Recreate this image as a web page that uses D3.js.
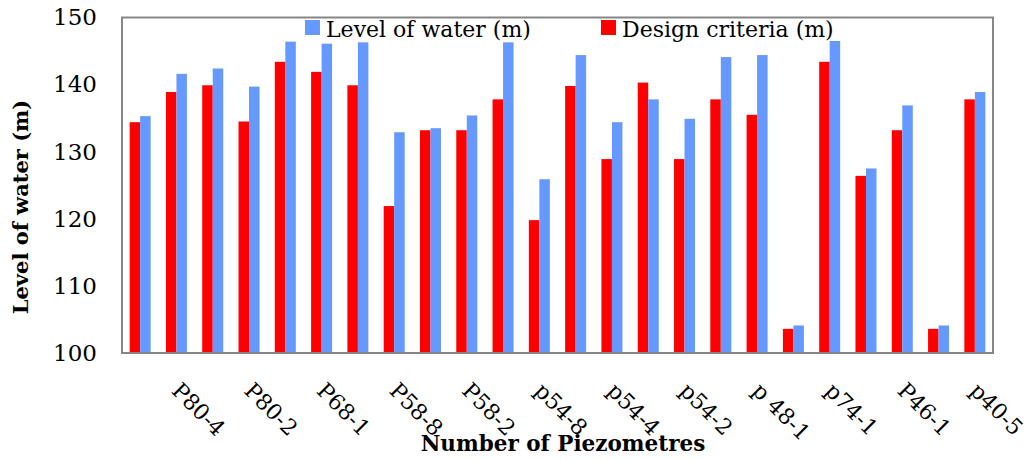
<!DOCTYPE html>
<html>
<head>
<meta charset="utf-8">
<script src="https://cdn.jsdelivr.net/npm/d3@7"></script>
<style>
  html, body { margin: 0; padding: 0; background: #fff; }
  svg { display: block; }
</style>
</head>
<body>
<svg id="chart" width="1030" height="460"></svg>
<script>
// ---- data ----
const tickLabels = ["P80-4", "P80-2", "P68-1", "P58-8", "P58-2", "p54-8",
                    "p54-4", "p54-2", "p 48-1", "p74-1", "P46-1", "p40-5"];
const levelOfWater = [135.3, 141.6, 142.4, 139.7, 146.4, 146.1, 146.3, 132.9,
                      133.5, 135.4, 146.3, 125.9, 144.4, 134.4, 137.8, 134.9,
                      144.1, 144.4, 104.1, 146.5, 127.5, 136.9, 104.1, 138.9];
const designCriteria = [134.4, 138.9, 139.9, 134.5, 143.4, 141.9, 139.9, 121.9,
                        133.2, 133.2, 137.8, 119.8, 139.8, 128.9, 140.3, 128.9,
                        137.8, 135.5, 103.6, 143.4, 126.4, 133.2, 103.6, 137.8];
const yTicks = [100, 110, 120, 130, 140, 150];
const seriesNames = ["Design criteria (m)", "Level of water (m)"];
const seriesColors = ["#FF0000", "#6699FF"];

// ---- layout ----
const svg = d3.select("#chart");
const plot = { left: 122, right: 993, top: 17.5, bottom: 353 };
const serif = "'DejaVu Serif', serif";

const categories = d3.range(levelOfWater.length);
const x = d3.scaleBand().domain(categories).range([plot.left, plot.right]).padding(0);
const x1 = d3.scaleBand().domain([0, 1]).range([0, x.bandwidth()])
  .paddingInner(0).paddingOuter(0.728);
const y = d3.scaleLinear().domain([100, 150]).range([plot.bottom, plot.top]);

svg.append("rect").attr("width", 1030).attr("height", 460).attr("fill", "#fff");

// bars
const seriesData = [designCriteria, levelOfWater];
seriesData.forEach((vals, s) => {
  svg.append("g").selectAll("rect").data(vals).join("rect")
    .attr("x", (d, i) => x(i) + x1(s))
    .attr("y", d => y(d))
    .attr("width", x1.bandwidth())
    .attr("height", d => y(100) - y(d))
    .attr("fill", seriesColors[s]);
});

// plot border
svg.append("rect")
  .attr("x", plot.left).attr("y", plot.top)
  .attr("width", plot.right - plot.left).attr("height", plot.bottom - plot.top)
  .attr("fill", "none").attr("stroke", "#868686").attr("stroke-width", 2);

// y axis
const yAxis = svg.append("g")
  .attr("transform", `translate(${plot.left},0)`)
  .call(d3.axisLeft(y).tickValues(yTicks).tickSize(0).tickPadding(25).tickFormat(d3.format("d")));
yAxis.select(".domain").remove();
yAxis.selectAll("text")
  .attr("font-family", serif).attr("font-size", 23).attr("fill", "#000");

// x axis
const labelled = categories.filter(i => i % 2 === 1);
const xAxis = svg.append("g")
  .attr("transform", `translate(0,${plot.bottom})`)
  .call(d3.axisBottom(x).tickValues(labelled).tickSize(0)
    .tickFormat(i => tickLabels[(i - 1) / 2]));
xAxis.select(".domain").remove();
xAxis.selectAll("text")
  .attr("x", 0).attr("y", 0).attr("dy", 0)
  .attr("text-anchor", "start")
  .attr("transform", "translate(-6,39) rotate(45)")
  .attr("font-family", serif).attr("font-size", 22).attr("fill", "#000");

// axis titles
svg.append("text")
  .attr("transform", `translate(27.5,207) rotate(-90)`)
  .attr("text-anchor", "middle")
  .attr("font-family", serif).attr("font-weight", "bold").attr("font-size", 21)
  .text("Level of water (m)");
svg.append("text")
  .attr("x", 563).attr("y", 451)
  .attr("text-anchor", "middle")
  .attr("font-family", serif).attr("font-weight", "bold").attr("font-size", 21.5)
  .text("Number of Piezometres");

// legend
const legendItems = [
  { name: seriesNames[1], color: seriesColors[1], x: 305 },
  { name: seriesNames[0], color: seriesColors[0], x: 601 }
];
const lg = svg.append("g").selectAll("g").data(legendItems).join("g")
  .attr("transform", d => `translate(${d.x},20)`);
lg.append("rect").attr("width", 15).attr("height", 15).attr("fill", d => d.color);
lg.append("text").attr("x", 21).attr("y", 16.5)
  .attr("font-family", serif).attr("font-size", 22).attr("fill", "#000")
  .text(d => d.name);
</script>
</body>
</html>
